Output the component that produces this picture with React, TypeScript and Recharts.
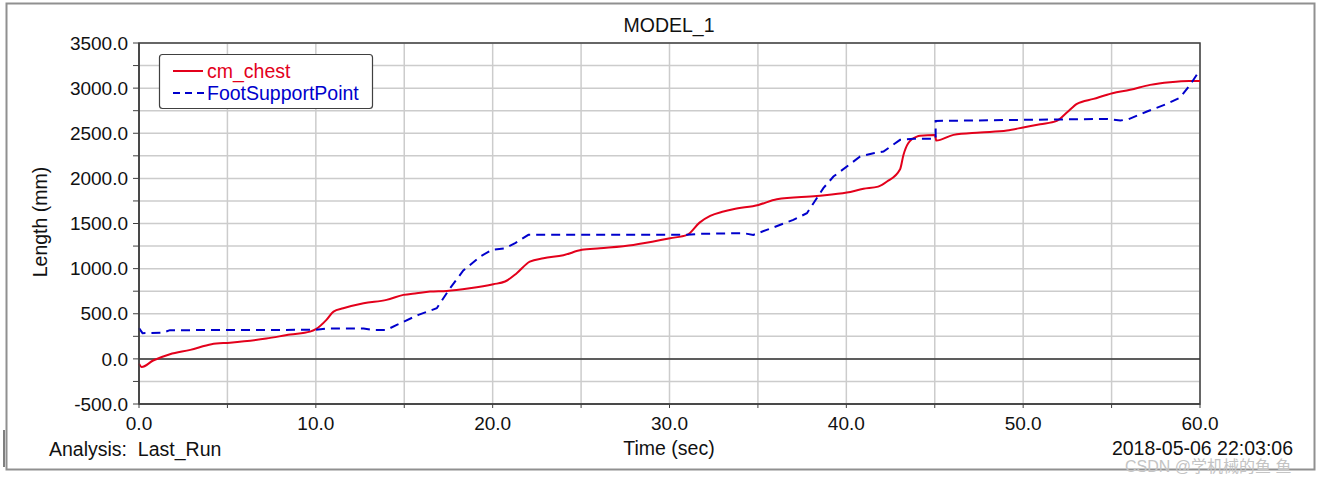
import React from 'react';
import { LineChart, Line, XAxis, YAxis, CartesianGrid, ReferenceLine, ReferenceArea } from 'recharts';

const chestT = [0, 0.15, 0.8, 1.75, 2.9, 4.1, 5.15, 7.2, 8.55, 9.67, 10, 10.6, 11, 11.55, 12.7, 14, 14.95, 15.7, 16.46, 17.4, 18.7, 20.04, 20.7, 21.36, 22.1, 22.87, 24, 25.04, 26.07, 27.96, 30.03, 31, 31.7, 32.3, 33.05, 33.6, 35.03, 36.07, 38.33, 40.03, 40.97, 41.8, 42.3, 43.04, 43.23, 43.5, 43.99, 44.17, 45.02, 45.08, 46.06, 47.57, 49.08, 50.07, 50.96, 51.9, 52.47, 53.04, 53.98, 55.05, 56.05, 57.18, 58.3, 59.4, 60];
const chestV = [-55, -90, -18, 52, 100, 163, 180, 225, 270, 302, 329, 432, 524, 561, 617, 654, 709, 728, 746, 753, 783, 827, 857, 949, 1078, 1115, 1149, 1208, 1226, 1263, 1337, 1374, 1510, 1584, 1632, 1658, 1706, 1769, 1806, 1843, 1884, 1909, 1965, 2102, 2260, 2390, 2463, 2471, 2480, 2419, 2482, 2508, 2530, 2567, 2600, 2637, 2729, 2825, 2881, 2944, 2981, 3036, 3066, 3080, 3080];

const footT = [0, 0.2, 1.37, 1.75, 10, 10.6, 12.7, 13.25, 14, 14.58, 15.8, 16.84, 17.59, 18.34, 19.29, 19.95, 20.7, 21.27, 22.02, 31, 31.73, 34.18, 34.74, 35.5, 37, 37.77, 38.7, 39.27, 40.78, 41.53, 42.1, 43.04, 43.8, 45.05, 45.05, 54.7, 55.5, 55.96, 57, 58.13, 58.88, 59.44, 60];
const footV = [340, 285, 291, 318, 322, 336, 336, 321, 321, 377, 488, 561, 783, 979, 1134, 1208, 1226, 1282, 1374, 1374, 1385, 1393, 1374, 1429, 1540, 1614, 1891, 2020, 2242, 2279, 2297, 2427, 2438, 2438, 2637, 2659, 2641, 2656, 2741, 2825, 2896, 3036, 3202];

const xTicks = [0, 5, 10, 15, 20, 25, 30, 35, 40, 45, 50, 55, 60];
const yTicks = [-500, -250, 0, 250, 500, 750, 1000, 1250, 1500, 1750, 2000, 2250, 2500, 2750, 3000, 3250, 3500];

const chestData = chestT.map((t, i) => ({ t, v: chestV[i] }));
const footData = footT.map((t, i) => ({ t, v: footV[i] }));

const FONT = '"Liberation Sans", Arial, sans-serif';
const RED = '#e3001b';
const BLUE = '#0000cc';
const FS = 19;
const LS = 19.5;

export default function App() {
  return (
    <div style={{ position: 'absolute', left: 0, top: 0, width: 1332, height: 480, background: '#fff', fontFamily: FONT }}>
      <LineChart width={1332} height={480} margin={{ top: 43, right: 132, bottom: 46, left: 0 }} style={{ fontFamily: FONT }}>
        <CartesianGrid stroke="#cccccc" strokeWidth={1.5} />
        <XAxis
          dataKey="t"
          type="number"
          domain={[0, 60]}
          ticks={xTicks}
          allowDuplicatedCategory={false}
          height={30}
          tickSize={4}
          tickMargin={9}
          tickFormatter={(v: number) => (v % 10 === 0 ? v.toFixed(1) : '')}
          tick={{ fill: '#111', fontSize: FS, fontFamily: FONT }}
          axisLine={{ stroke: '#404040', strokeWidth: 1.5 }}
          tickLine={{ stroke: '#404040' }}
        />
        <YAxis
          dataKey="v"
          type="number"
          domain={[-500, 3500]}
          ticks={yTicks}
          width={139}
          tickSize={6}
          tickMargin={5}
          tickFormatter={(v: number) => (v % 500 === 0 ? v.toFixed(1) : '')}
          tick={{ fill: '#111', fontSize: FS, fontFamily: FONT }}
          axisLine={{ stroke: '#404040', strokeWidth: 1.5 }}
          tickLine={{ stroke: '#404040' }}
        />
        <ReferenceLine y={0} stroke="#333" strokeWidth={1.5} />
        <ReferenceArea x1={0} x2={60} y1={-500} y2={3500} fill="none" fillOpacity={0} stroke="#404040" strokeWidth={1.5} />
        <Line data={chestData} dataKey="v" type="monotone" stroke={RED} strokeWidth={2} dot={false} isAnimationActive={false} />
        <Line data={footData} dataKey="v" type="linear" stroke={BLUE} strokeWidth={2} strokeDasharray="9 6" dot={false} isAnimationActive={false} />
      </LineChart>
      <svg width={1332} height={480} style={{ position: 'absolute', left: 0, top: 0, pointerEvents: 'none', fontFamily: FONT }}>
        <rect x={6.5} y={3.5} width={1308} height={466} fill="none" stroke="#909090" strokeWidth={2} />
        <line x1={4} y1={430} x2={4} y2={467} stroke="#000" strokeWidth={1} />
        <text x={669} y={32} textAnchor="middle" fontSize={LS} fill="#111">MODEL_1</text>
        <text x={669} y={455} textAnchor="middle" fontSize={LS} fill="#111">Time (sec)</text>
        <text x={49} y={456} fontSize={LS} fill="#111" style={{ whiteSpace: 'pre' }}>{'Analysis:  Last_Run'}</text>
        <text x={1293} y={455} textAnchor="end" fontSize={LS} fill="#111">2018-05-06 22:03:06</text>
        <text x={47} y={222} textAnchor="middle" fontSize={LS} fill="#111" transform="rotate(-90 47 222)">Length (mm)</text>
        <rect x={159.5} y={54.5} width={213} height={54} rx={3} fill="#fff" stroke="#404040" strokeWidth={1.2} />
        <line x1={173} y1={71} x2={203} y2={71} stroke={RED} strokeWidth={2} />
        <text x={207} y={77.5} fontSize={LS} fill={RED}>cm_chest</text>
        <line x1={173} y1={93} x2={205} y2={93} stroke={BLUE} strokeWidth={2} strokeDasharray="7 5" />
        <text x={207} y={100} fontSize={LS} fill={BLUE}>FootSupportPoint</text>
        <text x={1125} y={472} fontSize={16} fill="#c4c4c4" fontFamily={'"Liberation Sans", "Noto Sans CJK SC", sans-serif'}>CSDN @学机械的鱼 鱼</text>
      </svg>
    </div>
  );
}
